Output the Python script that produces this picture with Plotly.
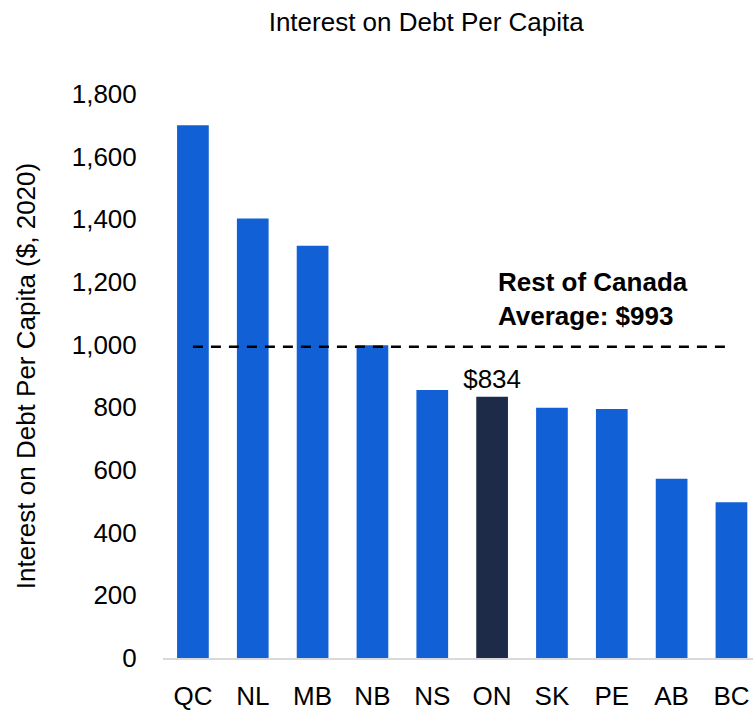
import plotly.graph_objects as go

# data
provinces = ["QC", "NL", "MB", "NB", "NS", "ON", "SK", "PE", "AB", "BC"]
interest_per_capita = [1700, 1403, 1316, 998, 855, 834, 799, 795, 572, 497]
rest_of_canada_avg = 993
highlight = "ON"

blue = "#1160D6"
navy = "#1E2B48"
font_family = "Arial, Liberation Sans, sans-serif"

bar_colors = [navy if p == highlight else blue for p in provinces]
bar_text = [f"${v:,}" if p == highlight else "" for p, v in zip(provinces, interest_per_capita)]

fig = go.Figure()
fig.add_trace(go.Bar(
    x=provinces, y=interest_per_capita,
    marker_color=bar_colors, marker_line_width=0,
    text=bar_text, textposition="outside", cliponaxis=False, constraintext="none",
    textfont=dict(size=26, color="black", family=font_family),
    showlegend=False,
))
# dashed average line across the provinces
fig.add_trace(go.Scatter(
    x=provinces, y=[rest_of_canada_avg] * len(provinces),
    mode="lines", line=dict(color="black", width=2.5, dash="10px,8px"),
    showlegend=False, hoverinfo="skip",
))

fig.add_annotation(
    text=f"<b>Rest of Canada<br>Average: ${rest_of_canada_avg:,}</b>",
    xref="paper", yref="paper", x=0.564, y=0.636,
    xanchor="left", yanchor="middle", align="left", showarrow=False,
    font=dict(size=26, color="black", family=font_family),
)

fig.update_layout(
    width=753, height=711,
    margin=dict(l=163, r=0, t=94, b=48),
    paper_bgcolor="white", plot_bgcolor="white",
    font=dict(family=font_family, color="black"),
    title=dict(text="Interest on Debt Per Capita", x=0.566, xref="container", xanchor="center",
               y=0.969, yref="container", yanchor="middle", font=dict(size=26)),
    bargap=0.47,
)
fig.update_xaxes(
    range=[-0.5, 9.36], showgrid=False, showline=True, linecolor="#d9d9d9", linewidth=1.5,
    ticks="outside", ticklen=14, tickcolor="white", tickfont=dict(size=26),
)
fig.update_yaxes(
    range=[0, 1800], dtick=200, tickformat=",", showgrid=False, zeroline=False,
    ticks="outside", ticklen=20, tickcolor="white", tickfont=dict(size=26),
    title=dict(text="Interest on Debt Per Capita ($, 2020)", font=dict(size=26), standoff=28),
)

# drop the page's default body margin so the figure sits at the window's corner
fig.write_html("out.html", config={"displayModeBar": False},
               post_script="document.body.style.margin='0';")
